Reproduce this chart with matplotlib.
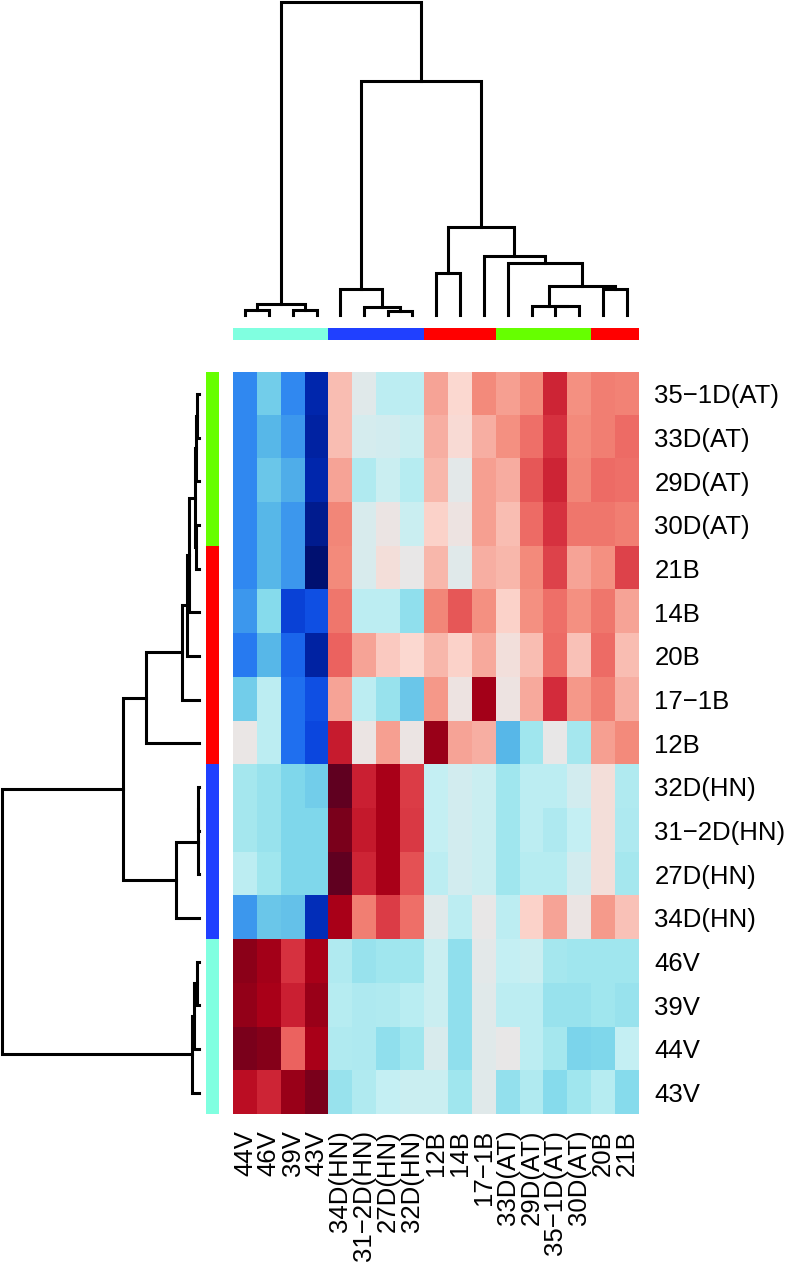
import numpy as np
import matplotlib
matplotlib.use("Agg")
import matplotlib.pyplot as plt
from matplotlib.colors import LinearSegmentedColormap, ListedColormap

plt.rcParams['font.family'] = ['Liberation Sans', 'DejaVu Sans']

# Etichette righe (dall'alto) e colonne (da sinistra)
row_labels = ['35−1D(AT)', '33D(AT)', '29D(AT)', '30D(AT)', '21B', '14B', '20B',
              '17−1B', '12B', '32D(HN)', '31−2D(HN)', '27D(HN)', '34D(HN)',
              '46V', '39V', '44V', '43V']
col_labels = ['44V', '46V', '39V', '43V', '34D(HN)', '31−2D(HN)', '27D(HN)',
              '32D(HN)', '12B', '14B', '17−1B', '33D(AT)', '29D(AT)',
              '35−1D(AT)', '30D(AT)', '20B', '21B']

# Gruppi (colore della barra laterale)
group_colors = {'V': '#80ffe0', 'HN': '#2040ff', 'B': '#ff0000', 'AT': '#66ff00'}
row_groups = ['AT', 'AT', 'AT', 'AT', 'B', 'B', 'B', 'B', 'B',
              'HN', 'HN', 'HN', 'HN', 'V', 'V', 'V', 'V']
col_groups = ['V', 'V', 'V', 'V', 'HN', 'HN', 'HN', 'HN', 'B', 'B', 'B',
              'AT', 'AT', 'AT', 'AT', 'B', 'B']

# Valori della matrice (stimati dai colori)
values = np.array([
    [-0.60, -0.35, -0.60, -0.90, 0.20, -0.02, -0.12, -0.12, 0.30, 0.10, 0.40, 0.32, 0.40, 0.72, 0.38, 0.45, 0.43],
    [-0.60, -0.45, -0.55, -0.92, 0.20, -0.05, -0.06, -0.08, 0.25, 0.08, 0.25, 0.38, 0.50, 0.68, 0.40, 0.45, 0.52],
    [-0.60, -0.38, -0.48, -0.90, 0.30, -0.15, -0.08, -0.14, 0.22, -0.01, 0.32, 0.26, 0.58, 0.72, 0.42, 0.52, 0.50],
    [-0.60, -0.45, -0.55, -0.95, 0.42, -0.04, 0.02, -0.08, 0.12, 0.03, 0.32, 0.20, 0.52, 0.68, 0.48, 0.48, 0.45],
    [-0.60, -0.45, -0.55, -1.00, 0.40, -0.04, 0.06, 0.00, 0.22, -0.02, 0.25, 0.22, 0.40, 0.64, 0.30, 0.38, 0.64],
    [-0.55, -0.28, -0.82, -0.78, 0.48, -0.12, -0.12, -0.25, 0.42, 0.58, 0.38, 0.12, 0.38, 0.50, 0.38, 0.48, 0.30],
    [-0.65, -0.45, -0.72, -0.92, 0.55, 0.30, 0.15, 0.10, 0.22, 0.12, 0.28, 0.05, 0.20, 0.52, 0.18, 0.52, 0.20],
    [-0.35, -0.12, -0.70, -0.78, 0.30, -0.12, -0.22, -0.38, 0.35, 0.03, 0.88, 0.03, 0.28, 0.70, 0.35, 0.45, 0.25],
    [0.01, -0.12, -0.70, -0.80, 0.75, 0.02, 0.32, 0.02, 0.90, 0.30, 0.25, -0.45, -0.20, 0.00, -0.18, 0.32, 0.40],
    [-0.18, -0.22, -0.30, -0.35, 1.00, 0.74, 0.86, 0.65, -0.10, -0.06, -0.08, -0.20, -0.12, -0.12, -0.06, 0.06, -0.15],
    [-0.18, -0.22, -0.30, -0.30, 0.96, 0.76, 0.86, 0.66, -0.10, -0.06, -0.08, -0.20, -0.12, -0.16, -0.10, 0.06, -0.16],
    [-0.12, -0.20, -0.30, -0.30, 1.00, 0.72, 0.86, 0.60, -0.12, -0.06, -0.08, -0.20, -0.14, -0.14, -0.06, 0.06, -0.18],
    [-0.55, -0.38, -0.40, -0.88, 0.86, 0.45, 0.65, 0.50, -0.02, -0.12, 0.00, -0.12, 0.12, 0.30, 0.02, 0.34, 0.18],
    [0.93, 0.88, 0.68, 0.86, -0.15, -0.22, -0.20, -0.20, -0.08, -0.25, -0.01, -0.10, -0.08, -0.18, -0.20, -0.20, -0.20],
    [0.92, 0.86, 0.74, 0.90, -0.14, -0.16, -0.15, -0.13, -0.08, -0.25, -0.02, -0.12, -0.12, -0.22, -0.22, -0.20, -0.22],
    [0.96, 0.94, 0.55, 0.86, -0.15, -0.16, -0.25, -0.20, -0.04, -0.25, -0.02, 0.00, -0.12, -0.18, -0.32, -0.30, -0.10],
    [0.80, 0.72, 0.90, 0.96, -0.22, -0.15, -0.10, -0.08, -0.08, -0.20, -0.02, -0.24, -0.15, -0.28, -0.20, -0.14, -0.28],
])

# Fusioni dei dendrogrammi: (nodo a, nodo b, altezza); nodi nuovi numerati da 17
col_merges = [(0, 1, 1.6), (2, 3, 1.6), (17, 18, 3.4), (6, 7, 1.4), (5, 20, 2.4),
              (4, 21, 8.2), (8, 9, 13.3), (13, 14, 2.8), (12, 24, 3.0), (15, 16, 8.2),
              (25, 26, 9.3), (11, 27, 16.7), (10, 28, 18.8), (23, 29, 28.2),
              (22, 30, 74.8), (19, 31, 100.0)]
row_merges = [(0, 1, 0.9), (17, 2, 1.3), (3, 4, 1.3), (18, 19, 2.0), (20, 5, 5.0),
              (21, 6, 5.9), (22, 7, 8.3), (23, 8, 26.6), (9, 10, 0.3), (25, 11, 0.5),
              (26, 12, 11.6), (24, 27, 38.7), (13, 14, 0.8), (29, 15, 2.5),
              (30, 16, 3.3), (28, 31, 100.0)]

# Scala colori blu-ciano-grigio-rosso
cmap_stops = [(-1.0, '#001070'), (-0.9, '#0028b0'), (-0.8, '#0c48e0'), (-0.7, '#2070f0'),
              (-0.6, '#3088f0'), (-0.45, '#58b8e8'), (-0.3, '#80d8ec'), (-0.2, '#a0e6ee'),
              (-0.1, '#c4f0f4'), (0.0, '#e8e8e8'), (0.1, '#fcd8d0'), (0.25, '#f8b0a4'),
              (0.4, '#f48c7c'), (0.55, '#ec6460'), (0.7, '#d42c3c'), (0.85, '#b00018'),
              (0.93, '#900018'), (1.0, '#600020')]
cmap = LinearSegmentedColormap.from_list('hm', [((v + 1) / 2, c) for v, c in cmap_stops])


def dendro_segments(n, merges):
    pos = [i + 0.5 for i in range(n)]
    hgt = [0.0] * n
    segs = []
    for a, b, h in merges:
        segs.append(([pos[a], pos[a], pos[b], pos[b]], [hgt[a], h, h, hgt[b]]))
        pos.append((pos[a] + pos[b]) / 2)
        hgt.append(h)
    return segs


W, H = 790, 1268
fig = plt.figure(figsize=(W / 100, H / 100), dpi=100)


def px_axes(x0, y0, x1, y1):
    return fig.add_axes([x0 / W, 1 - y1 / H, (x1 - x0) / W, (y1 - y0) / H])


n_rows, n_cols = values.shape
hm_x0, hm_x1, hm_y0, hm_y1 = 233, 639, 372, 1114.5

# Heatmap
ax = px_axes(hm_x0, hm_y0, hm_x1, hm_y1)
ax.imshow(values, cmap=cmap, vmin=-1, vmax=1, aspect='auto', interpolation='nearest',
          extent=(0, n_cols, n_rows, 0))
ax.set_xlim(0, n_cols)
ax.set_ylim(n_rows, 0)
ax.set_xticks(np.arange(n_cols) + 0.5)
ax.set_xticklabels(col_labels, rotation=90, fontsize=18.5)
ax.yaxis.tick_right()
ax.set_yticks(np.arange(n_rows) + 0.5)
ax.set_yticklabels(row_labels, fontsize=18.5)
ax.tick_params(length=0, pad=11)
for s in ax.spines.values():
    s.set_visible(False)

# Barra colori colonne
gkeys = list(group_colors)
gcmap = ListedColormap([group_colors[k] for k in gkeys])
axc = px_axes(hm_x0, 327.7, hm_x1, 340)
axc.imshow([[gkeys.index(g) for g in col_groups]], cmap=gcmap, vmin=-0.5,
           vmax=len(gkeys) - 0.5, aspect='auto', interpolation='nearest')
axc.axis('off')

# Barra colori righe
axr = px_axes(205.7, hm_y0, 218.3, hm_y1)
axr.imshow([[gkeys.index(g)] for g in row_groups], cmap=gcmap, vmin=-0.5,
           vmax=len(gkeys) - 0.5, aspect='auto', interpolation='nearest')
axr.axis('off')

# Dendrogramma colonne
axt = px_axes(hm_x0, 2.3, hm_x1, 315)
for xs, ys in dendro_segments(n_cols, col_merges):
    axt.plot(xs, ys, color='black', lw=2.2, solid_joinstyle='miter', clip_on=False)
axt.set_xlim(0, n_cols)
axt.set_ylim(0, 100)
axt.axis('off')

# Dendrogramma righe
axl = px_axes(2.3, hm_y0, 198.7, hm_y1)
for ys, xs in dendro_segments(n_rows, row_merges):
    axl.plot(xs, ys, color='black', lw=2.2, solid_joinstyle='miter', clip_on=False)
axl.set_xlim(100, 0)
axl.set_ylim(n_rows, 0)
axl.axis('off')

fig.savefig('out.png', dpi=100)
